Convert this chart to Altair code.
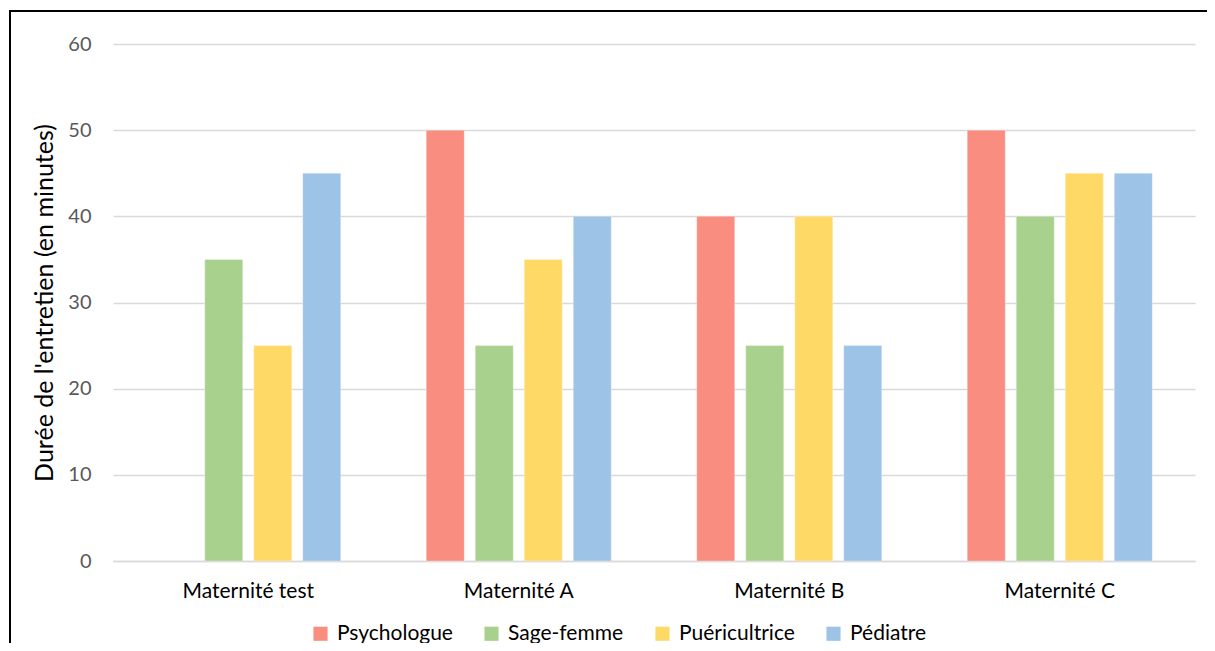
import altair as alt
import pandas as pd

categories = ["Maternité test", "Maternité A", "Maternité B", "Maternité C"]
series = ["Psychologue", "Sage-femme", "Puéricultrice", "Pédiatre"]
psychologue = [None, 50, 40, 50]
sage_femme = [35, 25, 25, 40]
puericultrice = [25, 35, 40, 45]
pediatre = [45, 40, 25, 45]
colors = ["#F98D80", "#A9D18E", "#FFD966", "#9DC3E6"]
y_ticks = [0, 10, 20, 30, 40, 50, 60]

rows = []
for s, vals in zip(series, [psychologue, sage_femme, puericultrice, pediatre]):
    for c, v in zip(categories, vals):
        if v is not None:
            rows.append({"Maternité": c, "Profession": s, "Durée": v})
df = pd.DataFrame(rows)

W, H = 1082, 517
PAD_L, PAD_T, PAD_R, PAD_B = 105, 36, 12, 82
FONT = "Lato"

bars = alt.Chart(df).mark_bar(stroke="white", strokeWidth=0.6, strokeOpacity=0.5).encode(
    x=alt.X(
        "Maternité:N",
        sort=categories,
        scale=alt.Scale(domain=categories, paddingInner=0, paddingOuter=0),
        axis=alt.Axis(
            title=None, labelAngle=0, ticks=False, domainColor="#D9D9D9",
            domainWidth=1.5, labelFontSize=21, labelColor="black",
            labelPadding=19, labelFont=FONT,
        ),
    ),
    xOffset=alt.XOffset(
        "Profession:N",
        sort=series,
        scale=alt.Scale(domain=series, paddingInner=0.2245, paddingOuter=0.872),
    ),
    y=alt.Y(
        "Durée:Q",
        scale=alt.Scale(domain=[0, 60], nice=False),
        axis=alt.Axis(
            values=y_ticks, title="Durée de l'entretien (en minutes)",
            grid=True, gridColor="#D9D9D9", gridWidth=1.5, domain=False,
            ticks=False, labelPadding=22, labelFontSize=20,
            labelColor="#595959", labelFont=FONT, titleFont=FONT,
            titleFontSize=25, titleFontWeight="normal", titleColor="black",
            titlePadding=10,
        ),
    ),
    color=alt.Color(
        "Profession:N",
        sort=series,
        scale=alt.Scale(domain=series, range=colors),
        legend=alt.Legend(
            title=None, orient="none", direction="horizontal",
            legendX=197, legendY=579, symbolType="square", symbolSize=200,
            symbolStrokeWidth=0, symbolOpacity=1, labelFontSize=21,
            labelColor="black", labelFont=FONT, labelOffset=6,
            columnPadding=28,
        ),
    ),
)

# chart frame (decoration): two thin filled bands along the top and left edges
frame = pd.DataFrame({"k": [0]})
top_band = alt.Chart(frame).mark_rect(color="black", clip=False).encode(
    x=alt.value(-PAD_L + 1), x2=alt.value(W + PAD_R),
    y=alt.value(-PAD_T + 2), y2=alt.value(-PAD_T + 4),
)
left_band = alt.Chart(frame).mark_rect(color="black", clip=False).encode(
    x=alt.value(-PAD_L + 1), x2=alt.value(-PAD_L + 3),
    y=alt.value(-PAD_T + 2), y2=alt.value(H + PAD_B),
)

chart = alt.layer(bars, top_band, left_band).properties(
    width=W, height=H,
    padding={"left": PAD_L, "top": PAD_T, "right": PAD_R, "bottom": PAD_B},
    autosize=alt.AutoSizeParams(type="none"),
    background="white",
).configure(font=FONT).configure_view(strokeWidth=0, stroke="transparent")

chart.save("out.html", embed_options={"renderer": "svg", "actions": False})
